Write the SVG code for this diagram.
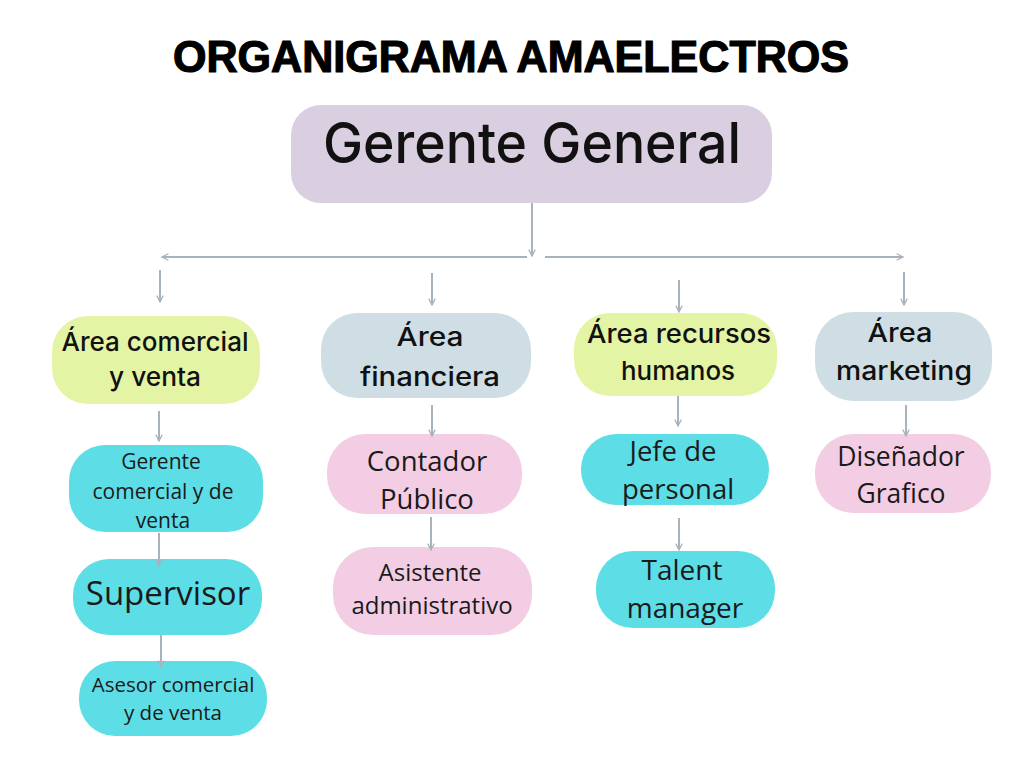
<svg xmlns="http://www.w3.org/2000/svg" width="1024" height="768" viewBox="0 0 1024 768">
<defs>
<marker id="arr" viewBox="0 0 10 10" refX="9" refY="5" markerWidth="8" markerHeight="8" markerUnits="userSpaceOnUse" orient="auto">
<polyline points="1,1 9,5 1,9" fill="none" stroke="#a9b3bc" stroke-width="1.6"/>
</marker>
<style>
.c{stroke:#a9b3bc;stroke-width:2;fill:none;marker-end:url(#arr)}
.h{font-family:Inter,"Liberation Sans",sans-serif;font-weight:500;fill:#111;text-anchor:middle;font-size:26px}
.o{font-family:"Open Sans","Noto Sans",sans-serif;fill:#1a1a1a;text-anchor:middle}
.yg{fill:#e3f4a5}.bl{fill:#cfdee4}.cy{fill:#5ddde6}.pk{fill:#f3cde3}
</style>
</defs>
<rect width="1024" height="768" fill="#fff"/>
<text x="511" y="72" font-family="'Liberation Sans',sans-serif" font-weight="bold" font-size="44" fill="#000" text-anchor="middle" textLength="676" lengthAdjust="spacingAndGlyphs" stroke="#000" stroke-width="1.2">ORGANIGRAMA AMAELECTROS</text>

<g id="gerente">
<rect x="291" y="105" width="481" height="98" rx="30" fill="#dacfe0"/>
<text class="h" x="532" y="163" style="font-size:56px" textLength="418" lengthAdjust="spacingAndGlyphs">Gerente General</text>
</g>

<g id="area-comercial">
<rect class="yg" x="52" y="316" width="208" height="88" rx="36"/>
<text class="h" x="155" y="351" textLength="187" lengthAdjust="spacingAndGlyphs">Área comercial</text>
<text class="h" x="155" y="386" textLength="92" lengthAdjust="spacingAndGlyphs">y venta</text>
</g>
<g id="area-financiera">
<rect class="bl" x="321" y="313" width="210" height="85" rx="36"/>
<text class="h" x="430" y="346" textLength="67" lengthAdjust="spacingAndGlyphs">Área</text>
<text class="h" x="430" y="386" textLength="140" lengthAdjust="spacingAndGlyphs">financiera</text>
</g>
<g id="area-rrhh">
<rect class="yg" x="574" y="313" width="203" height="83" rx="36"/>
<text class="h" x="679" y="343" textLength="184" lengthAdjust="spacingAndGlyphs">Área recursos</text>
<text class="h" x="678" y="380" textLength="114" lengthAdjust="spacingAndGlyphs">humanos</text>
</g>
<g id="area-marketing">
<rect class="bl" x="815" y="312" width="177" height="89" rx="38"/>
<text class="h" x="900" y="342" textLength="65" lengthAdjust="spacingAndGlyphs">Área</text>
<text class="h" x="904" y="380" textLength="136" lengthAdjust="spacingAndGlyphs">marketing</text>
</g>

<g id="gerente-comercial">
<rect class="cy" x="69" y="445" width="194" height="87" rx="36"/>
<text class="o" x="161" y="469" font-size="21">Gerente</text>
<text class="o" x="163" y="499" font-size="21">comercial y de</text>
<text class="o" x="163" y="528" font-size="21">venta</text>
</g>
<g id="supervisor">
<rect class="cy" x="73" y="559" width="189" height="76" rx="36"/>
<text class="o" x="168" y="605" font-size="33">Supervisor</text>
</g>
<g id="asesor">
<rect class="cy" x="79" y="661" width="188" height="75" rx="36"/>
<text class="o" x="173" y="692" font-size="20.5">Asesor comercial</text>
<text class="o" x="173" y="720" font-size="20.5">y de venta</text>
</g>
<g id="contador">
<rect class="pk" x="327" y="434" width="195" height="80" rx="38"/>
<text class="o" x="427" y="471" font-size="27.5">Contador</text>
<text class="o" x="427" y="509" font-size="27.5">Público</text>
</g>
<g id="asistente">
<rect class="pk" x="333" y="547" width="199" height="88" rx="40"/>
<text class="o" x="430" y="581" font-size="24">Asistente</text>
<text class="o" x="432" y="614" font-size="24">administrativo</text>
</g>
<g id="jefe">
<rect class="cy" x="581" y="434" width="188" height="71" rx="35"/>
<text class="o" x="673" y="461" font-size="27.5">Jefe de</text>
<text class="o" x="678" y="499" font-size="27.5">personal</text>
</g>
<g id="talent">
<rect class="cy" x="596" y="551" width="179" height="77" rx="37"/>
<text class="o" x="682" y="580" font-size="28">Talent</text>
<text class="o" x="685" y="618" font-size="28">manager</text>
</g>
<g id="disenador">
<rect class="pk" x="815" y="434" width="176" height="79" rx="38"/>
<text class="o" x="901" y="466" font-size="26.5">Diseñador</text>
<text class="o" x="901" y="503" font-size="26.5">Grafico</text>
</g>

<g id="connectors">
<line class="c" x1="532" y1="203" x2="532" y2="256"/>
<line class="c" x1="527" y1="257" x2="162" y2="257"/>
<line class="c" x1="545" y1="257" x2="903" y2="257"/>
<line class="c" x1="160" y1="270" x2="160" y2="302"/>
<line class="c" x1="432" y1="273" x2="432" y2="305"/>
<line class="c" x1="679" y1="280" x2="679" y2="312"/>
<line class="c" x1="904" y1="272" x2="904" y2="305"/>
<line class="c" x1="159" y1="411" x2="159" y2="441"/>
<line class="c" x1="432" y1="405" x2="432" y2="436"/>
<line class="c" x1="678" y1="396" x2="678" y2="426"/>
<line class="c" x1="906" y1="405" x2="906" y2="436"/>
<line class="c" x1="159" y1="533" x2="159" y2="566"/>
<line class="c" x1="161" y1="635" x2="161" y2="667"/>
<line class="c" x1="431" y1="517" x2="431" y2="550"/>
<line class="c" x1="679" y1="518" x2="679" y2="550"/>
</g>
</svg>
